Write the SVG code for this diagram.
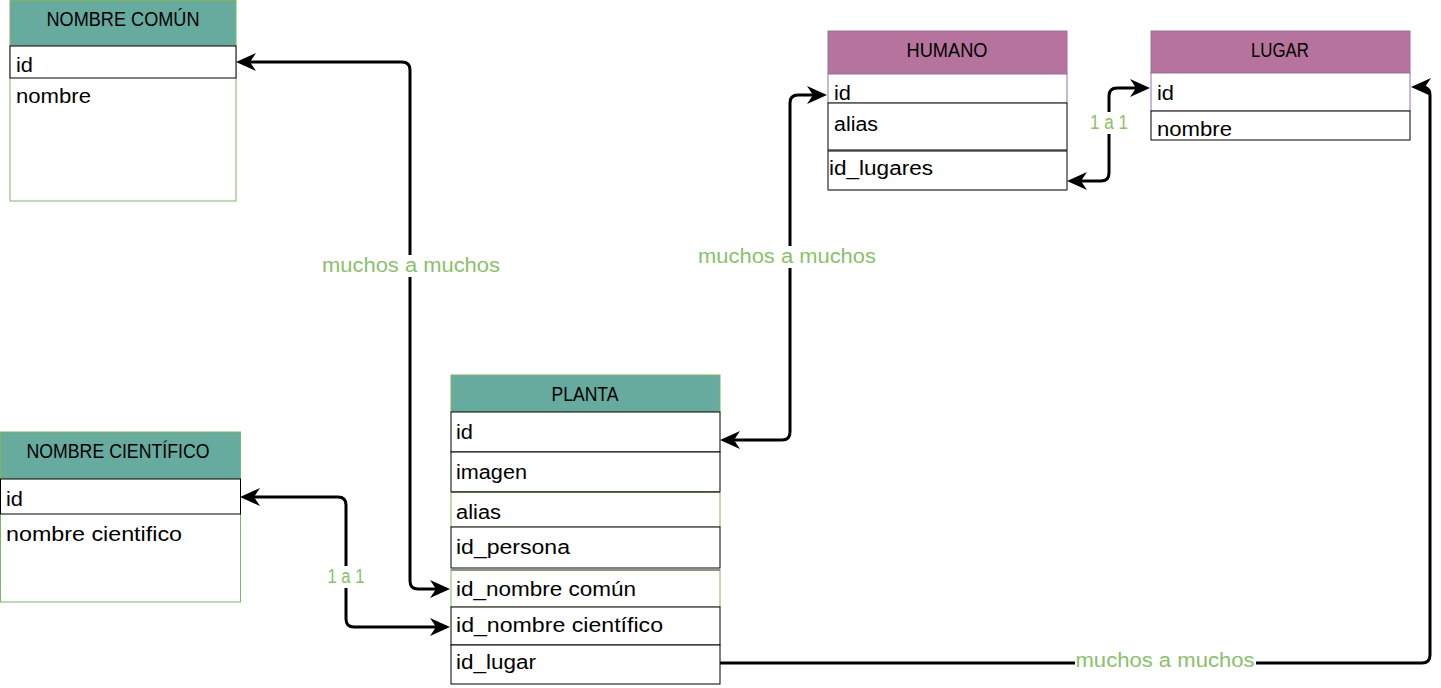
<svg xmlns="http://www.w3.org/2000/svg" width="1441" height="688" viewBox="0 0 1441 688">
<style>
.bg{fill:#ffffff}
.hdT{fill:#67AB9F;stroke:#82b366;stroke-width:1}
.hdP{fill:#B5739D;stroke:#9673a6;stroke-width:1}
.row{fill:#ffffff;stroke:#000000;stroke-width:1}
.rowG{fill:#ffffff;stroke:#82b366;stroke-width:1}
.rowP{fill:#ffffff;stroke:#9673a6;stroke-width:1}
.ht{font-family:"Liberation Sans",Arial,sans-serif;font-size:19.5px;fill:#000;text-anchor:middle}
.rt{font-family:"Liberation Sans",Arial,sans-serif;font-size:20px;fill:#000}
.lb{font-family:"Liberation Sans",Arial,sans-serif;font-size:19.5px;fill:#8bc06c;text-anchor:middle}
.ln{fill:none;stroke:#000;stroke-width:3}
</style>
<defs>
<marker id="ar" viewBox="0 0 20 18" refX="15" refY="9" markerWidth="20" markerHeight="18" markerUnits="userSpaceOnUse" orient="auto-start-reverse">
<path d="M0,0 L20,9 L0,18 L6,9 z" fill="#000"/>
</marker>
</defs>
<rect class="bg" x="0" y="0" width="1441" height="688"/>

<g id="nombre-comun">
<rect class="rowG" x="10" y="46" width="226" height="155"/>
<rect class="hdT" x="10" y="0.5" width="226" height="45.5"/>
<text class="ht" x="123" y="25.5" textLength="153" lengthAdjust="spacingAndGlyphs">NOMBRE COMÚN</text>
<rect class="row" x="10" y="46" width="226" height="32"/>
<text class="rt" x="16" y="72" textLength="17" lengthAdjust="spacingAndGlyphs">id</text>
<text class="rt" x="16" y="103" textLength="75" lengthAdjust="spacingAndGlyphs">nombre</text>
</g>

<g id="nombre-cientifico">
<rect class="rowG" x="0.5" y="479" width="240" height="123"/>
<rect class="hdT" x="0.5" y="432" width="240" height="47"/>
<text class="ht" x="118" y="457.5" textLength="183" lengthAdjust="spacingAndGlyphs">NOMBRE CIENTÍFICO</text>
<rect class="row" x="0.5" y="479" width="240" height="35"/>
<text class="rt" x="6" y="506" textLength="17" lengthAdjust="spacingAndGlyphs">id</text>
<text class="rt" x="6" y="541" textLength="176" lengthAdjust="spacingAndGlyphs">nombre cientifico</text>
</g>

<g id="planta">
<rect class="hdT" x="451" y="375" width="269" height="37"/>
<text class="ht" x="585" y="400.5" textLength="67" lengthAdjust="spacingAndGlyphs">PLANTA</text>
<rect class="row" x="451" y="412" width="269" height="40"/>
<text class="rt" x="456" y="439" textLength="17" lengthAdjust="spacingAndGlyphs">id</text>
<rect class="row" x="451" y="452" width="269" height="40"/>
<text class="rt" x="456" y="479" textLength="71" lengthAdjust="spacingAndGlyphs">imagen</text>
<rect class="rowG" x="451" y="492" width="269" height="35"/>
<line x1="451" y1="492" x2="720" y2="492" stroke="#000" stroke-width="1"/>
<text class="rt" x="456" y="519" textLength="45" lengthAdjust="spacingAndGlyphs">alias</text>
<rect class="row" x="451" y="527" width="269" height="41"/>
<text class="rt" x="456" y="554" textLength="114" lengthAdjust="spacingAndGlyphs">id_persona</text>
<rect class="rowG" x="451" y="570" width="269" height="37"/>
<line x1="451" y1="570" x2="720" y2="570" stroke="#555" stroke-width="1"/>
<text class="rt" x="456" y="596" textLength="180" lengthAdjust="spacingAndGlyphs">id_nombre común</text>
<rect class="row" x="451" y="607" width="269" height="38"/>
<text class="rt" x="456" y="632" textLength="207" lengthAdjust="spacingAndGlyphs">id_nombre científico</text>
<rect class="row" x="451" y="645" width="269" height="39"/>
<text class="rt" x="456" y="669" textLength="80" lengthAdjust="spacingAndGlyphs">id_lugar</text>
</g>

<g id="humano">
<rect class="hdP" x="828" y="31" width="239" height="43"/>
<text class="ht" x="947" y="56.5" textLength="81" lengthAdjust="spacingAndGlyphs">HUMANO</text>
<rect class="rowP" x="828" y="74" width="239" height="29"/>
<text class="rt" x="834" y="100" textLength="17" lengthAdjust="spacingAndGlyphs">id</text>
<rect class="row" x="828" y="103" width="239" height="47"/>
<text class="rt" x="834" y="131" textLength="44" lengthAdjust="spacingAndGlyphs">alias</text>
<rect class="row" x="828" y="151" width="239" height="39"/>
<line x1="828" y1="190" x2="1067" y2="190" stroke="#777" stroke-width="1.5"/>
<text class="rt" x="829" y="175" textLength="104" lengthAdjust="spacingAndGlyphs">id_lugares</text>
</g>

<g id="lugar">
<rect class="hdP" x="1151" y="31" width="259" height="42"/>
<text class="ht" x="1280" y="56.5" textLength="58" lengthAdjust="spacingAndGlyphs">LUGAR</text>
<rect class="rowP" x="1151" y="73" width="259" height="38"/>
<text class="rt" x="1157" y="100" textLength="17" lengthAdjust="spacingAndGlyphs">id</text>
<rect class="row" x="1151" y="111" width="259" height="29"/>
<text class="rt" x="1157" y="136" textLength="75" lengthAdjust="spacingAndGlyphs">nombre</text>
</g>

<g id="connectors">
<path class="ln" d="M241 62 H402 Q410 62 410 70 V581 Q410 589 418 589 H445" marker-start="url(#ar)" marker-end="url(#ar)"/>
<path class="ln" d="M245 497 H338 Q346 497 346 505 V619 Q346 627 354 627 H445" marker-start="url(#ar)" marker-end="url(#ar)"/>
<path class="ln" d="M725 440 H782 Q790 440 790 432 V103 Q790 95 798 95 H822" marker-start="url(#ar)" marker-end="url(#ar)"/>
<path class="ln" d="M1072 181 H1101 Q1109 181 1109 173 V96 Q1109 88 1117 88 H1145" marker-start="url(#ar)" marker-end="url(#ar)"/>
<path class="ln" d="M720 663 H1422 Q1430 663 1430 655 V95 Q1430 87 1422 87 H1416" marker-end="url(#ar)"/>
<rect class="bg" x="321" y="255" width="180" height="22"/>
<text class="lb" x="411" y="272" textLength="178" lengthAdjust="spacingAndGlyphs">muchos a muchos</text>
<rect class="bg" x="697" y="246" width="180" height="22"/>
<text class="lb" x="787" y="263" textLength="178" lengthAdjust="spacingAndGlyphs">muchos a muchos</text>
<rect class="bg" x="1075" y="650" width="181" height="22"/>
<text class="lb" x="1165" y="667" textLength="179" lengthAdjust="spacingAndGlyphs">muchos a muchos</text>
<rect class="bg" x="326" y="566" width="40" height="22"/>
<text class="lb" x="346" y="583" textLength="37" lengthAdjust="spacingAndGlyphs">1 a 1</text>
<rect class="bg" x="1088" y="112" width="42" height="22"/>
<text class="lb" x="1109" y="129" textLength="38" lengthAdjust="spacingAndGlyphs">1 a 1</text>
</g>
</svg>
